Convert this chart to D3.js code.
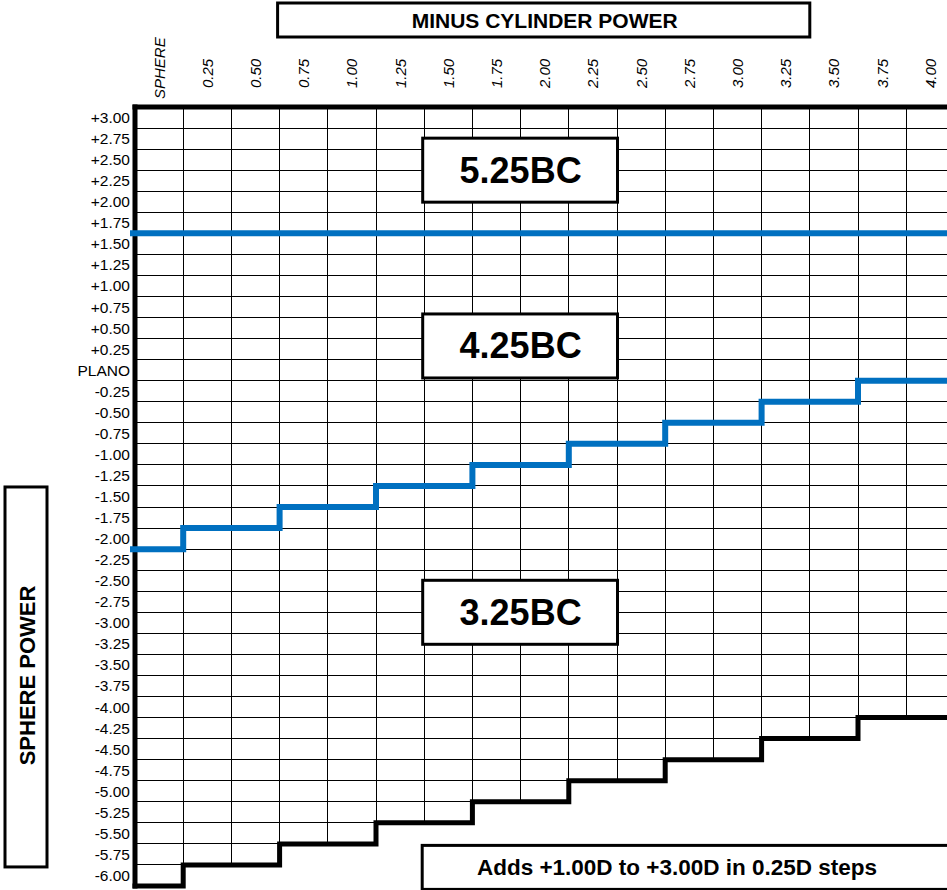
<!DOCTYPE html>
<html>
<head>
<meta charset="utf-8">
<script src="https://cdn.jsdelivr.net/npm/d3@7"></script>
<style>
body{margin:0;background:#fff;}
svg{display:block;font-family:"Liberation Sans",Arial,sans-serif;}
</style>
</head>
<body>
<script>
// column headers (minus cylinder power)
let cylinders = ["SPHERE","0.25","0.50","0.75","1.00","1.25","1.50","1.75","2.00",
                 "2.25","2.50","2.75","3.00","3.25","3.50","3.75","4.00"];
// row headers (sphere power)
let spheres = ["+3.00","+2.75","+2.50","+2.25","+2.00","+1.75","+1.50","+1.25","+1.00",
               "+0.75","+0.50","+0.25","PLANO","-0.25","-0.50","-0.75","-1.00","-1.25",
               "-1.50","-1.75","-2.00","-2.25","-2.50","-2.75","-3.00","-3.25","-3.50",
               "-3.75","-4.00","-4.25","-4.50","-4.75","-5.00","-5.25","-5.50","-5.75","-6.00"];
// first row under the 5.25BC / 4.25BC change, per column
let below525 = ["+1.50","+1.50","+1.50","+1.50","+1.50","+1.50","+1.50","+1.50","+1.50",
                "+1.50","+1.50","+1.50","+1.50","+1.50","+1.50","+1.50","+1.50"];
// first row under the 4.25BC / 3.25BC change, per column
let below425 = ["-2.25","-2.00","-2.00","-1.75","-1.75","-1.50","-1.50","-1.25","-1.25",
                "-1.00","-1.00","-0.75","-0.75","-0.50","-0.50","-0.25","-0.25"];
// last available row per column
let lowest = ["-6.00","-5.75","-5.75","-5.50","-5.50","-5.25","-5.25","-5.00","-5.00",
              "-4.75","-4.75","-4.50","-4.50","-4.25","-4.25","-4.00","-4.00"];
let baseCurves = ["5.25BC","4.25BC","3.25BC"];

let width = 947, height = 890;
let svg = d3.select("body").append("svg")
            .attr("width",width)
            .attr("height",height);

let x = d3.scaleBand().domain(cylinders).range([135,135+17*48.2]);
let y = d3.scaleBand().domain(spheres).range([107,886]);
let bw = x.bandwidth(), bh = y.bandwidth();

// grid cells, only down to the lowest available sphere
let cells = [];
cylinders.forEach((c,i)=>{
    let last = spheres.indexOf(lowest[i]);
    spheres.forEach((s,j)=>{ if(j<=last) cells.push({c:c,s:s}); });
});
svg.append("g").selectAll("rect")
   .data(cells)
   .enter()
   .append("rect")
   .attr("x",d=>x(d.c))
   .attr("y",d=>y(d.s))
   .attr("width",bw)
   .attr("height",bh)
   .attr("fill","none")
   .attr("stroke","#000")
   .attr("stroke-width",1)
   .attr("shape-rendering","crispEdges");

// row labels
svg.append("g").selectAll("text")
   .data(spheres)
   .enter()
   .append("text")
   .attr("x",130)
   .attr("y",d=>y(d)+bh/2)
   .attr("text-anchor","end")
   .attr("dominant-baseline","central")
   .style("font-size","15.5px")
   .text(d=>d);

// column labels, rotated
svg.append("g").selectAll("text")
   .data(cylinders)
   .enter()
   .append("text")
   .attr("transform",(d,i)=>"translate("+(x(d)+bw/2)+","+(i==0?99:88)+") rotate(-90)")
   .attr("text-anchor","start")
   .attr("dominant-baseline","central")
   .style("font-size","15px")
   .style("font-style","italic")
   .text(d=>d);

// thick left and top borders
svg.append("line")
   .attr("x1",x.range()[0]).attr("y1",y.range()[0]-2.5)
   .attr("x2",x.range()[0]).attr("y2",y.range()[1]+2.5)
   .attr("stroke","#000").attr("stroke-width",5);
svg.append("line")
   .attr("x1",x.range()[0]-2.5).attr("y1",y.range()[0])
   .attr("x2",width+10).attr("y2",y.range()[0])
   .attr("stroke","#000").attr("stroke-width",5);

// step lines
let stepLine = d3.line();
function steps(rows,offset,startPad){
    let pts = [];
    cylinders.forEach((c,i)=>{
        let yy = y(rows[i])+offset;
        pts.push([i==0?x(c)-startPad:x(c),yy]);
        pts.push([x(c)+bw,yy]);
    });
    return pts;
}
svg.append("path")
   .attr("d",stepLine(steps(below525,0,5)))
   .attr("fill","none").attr("stroke","#0070C0").attr("stroke-width",6);
svg.append("path")
   .attr("d",stepLine(steps(below425,0,5)))
   .attr("fill","none").attr("stroke","#0070C0").attr("stroke-width",6);
svg.append("path")
   .attr("d",stepLine(steps(lowest,bh,2.5)))
   .attr("fill","none").attr("stroke","#000").attr("stroke-width",5);

// base curve boxes
let bcRows = ["+2.25","+0.25","-3.00"];
let bcShift = [0,0.35,0];
let bcBox = svg.append("g").selectAll("g")
   .data(baseCurves)
   .enter()
   .append("g")
   .attr("transform",(d,i)=>"translate(0,"+(y(bcRows[i])+bcShift[i]*bh)+")");
bcBox.append("rect")
   .attr("x",x("1.50")-1.5)
   .attr("y",-32)
   .attr("width",x("2.50")-x("1.50")+2)
   .attr("height",64)
   .attr("fill","#fff").attr("stroke","#000").attr("stroke-width",3);
bcBox.append("text")
   .attr("x",(x("1.50")+x("2.50"))/2)
   .attr("y",0)
   .attr("text-anchor","middle")
   .attr("dominant-baseline","central")
   .style("font-size","36px").style("font-weight","bold")
   .text(d=>d);

// title box
svg.append("rect")
   .attr("x",x("0.75")-2).attr("y",3)
   .attr("width",x("3.50")-x("0.75")+2).attr("height",34)
   .attr("fill","#fff").attr("stroke","#000").attr("stroke-width",3);
svg.append("text")
   .attr("x",(x("0.75")+x("3.50"))/2).attr("y",20)
   .attr("text-anchor","middle").attr("dominant-baseline","central")
   .style("font-size","21px").style("font-weight","bold")
   .text("MINUS CYLINDER POWER");

// side box
svg.append("rect")
   .attr("x",5).attr("y",y("-1.50")+1)
   .attr("width",42).attr("height",y("-6.00")-y("-1.50")+1)
   .attr("fill","#fff").attr("stroke","#000").attr("stroke-width",3);
svg.append("text")
   .attr("transform","translate(27,"+((y("-1.50")+y("-6.00"))/2)+") rotate(-90)")
   .attr("text-anchor","middle").attr("dominant-baseline","central")
   .style("font-size","22px").style("font-weight","bold")
   .text("SPHERE POWER");

// bottom note
svg.append("rect")
   .attr("x",x("1.50")-2).attr("y",y("-5.75")+1.5)
   .attr("width",560).attr("height",44)
   .attr("fill","#fff").attr("stroke","#000").attr("stroke-width",3);
svg.append("text")
   .attr("x",677).attr("y",y("-5.75")+23.5)
   .attr("text-anchor","middle").attr("dominant-baseline","central")
   .style("font-size","22.5px").style("font-weight","bold")
   .text("Adds +1.00D to +3.00D in 0.25D steps");
</script>
</body>
</html>
